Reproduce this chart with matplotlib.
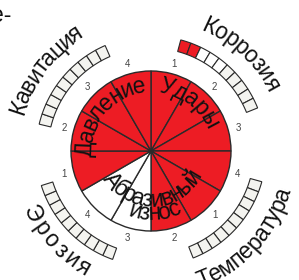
import numpy as np
import matplotlib
matplotlib.use("Agg")
import matplotlib.pyplot as plt
from matplotlib.font_manager import FontProperties

plt.rcParams['font.family'] = ['Liberation Sans', 'DejaVu Sans']

# ---------------- data ----------------
group_names = ['Удары', 'Абразивный износ', 'Давление']
sector_labels = ['1', '2', '3', '4', '1', '2', '3', '4', '1', '2', '3', '4']
sector_filled = [1, 1, 1, 1, 1, 1, 0, 0, 1, 1, 1, 1]

ring_names = ['Коррозия', 'Кавитация', 'Эрозия', 'Температура']
# 2 = red, 1 = white, 0 = light grey
korroziya_boxes = [2, 2, 1, 1, 1, 0, 0, 0, 0, 0]
kavitatsiya_boxes = [0, 0, 0, 0, 0, 0, 0, 0, 0, 0]
eroziya_boxes = [0, 0, 0, 0, 0, 0, 0, 0, 0, 0]
temperatura_boxes = [0, 0, 0, 0, 0, 0, 0, 0, 0, 0]
title_fragment = 'е-'

# ---------------- style / layout ----------------
RED = '#ED1C24'
LIGHT = '#f4f4f0'
EDGE = '#2a2a2a'
FS = 16.5
W, H = 299, 280
fig = plt.figure(figsize=(W / 100, H / 100), dpi=100)
R_AX = 150
cx, cy = 151, H - 151
ax = fig.add_axes([(cx - R_AX) / W, (cy - R_AX) / H, 2 * R_AX / W, 2 * R_AX / H],
                  projection='polar')
ax.set_ylim(0, R_AX)
ax.set_axis_off()

R_CIRC = 80
n_sec = len(sector_labels)
sec_w = 360 / n_sec
sec_centers = 90 - sec_w / 2 - sec_w * np.arange(n_sec)
ax.bar(np.deg2rad(sec_centers), [R_CIRC] * n_sec, width=np.deg2rad(sec_w), bottom=0,
       color=[RED if f else 'white' for f in sector_filled],
       edgecolor=EDGE, linewidth=1.0, align='center', zorder=2)

for a, lab in zip(sec_centers, sector_labels):
    ax.text(np.deg2rad(a), 90, lab, ha='center', va='center', fontsize=7, color='#444444')

# box rings
box_colors = {2: RED, 1: 'white', 0: LIGHT}
ring_boxes = [korroziya_boxes, kavitatsiya_boxes, eroziya_boxes, temperatura_boxes]
ring_centers = [48.5, 140, -136, -42]
SPAN = 53
R_IN, R_OUT = 103, 115
for boxes, c in zip(ring_boxes, ring_centers):
    n = len(boxes)
    w = SPAN / n
    angs = c + SPAN / 2 - w * (np.arange(n) + 0.5)
    ax.bar(np.deg2rad(angs), R_OUT - R_IN, width=np.deg2rad(w), bottom=R_IN,
           color=[box_colors[b] for b in boxes], edgecolor=EDGE, linewidth=0.8, zorder=2)

renderer = fig.canvas.get_renderer()


def arc_text(s, r_c, a0, a1, outward, fs=FS):
    prop = FontProperties(family=['Liberation Sans', 'DejaVu Sans'], size=fs)
    widths = np.array([renderer.get_text_width_height_descent(ch, prop, ismath=False)[0]
                       for ch in s])
    cum = np.concatenate([[0], np.cumsum(widths[:-1])]) + widths / 2
    frac = (cum - cum[0]) / (cum[-1] - cum[0])
    angs = a0 + frac * (a1 - a0)
    off = 0.26 * fs * 100 / 72
    for ch, a in zip(s, angs):
        if outward:
            rb, rot = r_c - off, a - 90
        else:
            rb, rot = r_c + off, a + 90
        ax.text(np.deg2rad(a), rb, ch, rotation=rot, rotation_mode='anchor',
                ha='center', va='baseline', fontsize=fs, color='#111111', zorder=5)


# inner group labels
arc_text(group_names[0], 65, 76, 28, True)
arc_text(group_names[2], 65, 178, 100, True)
abr, izn = group_names[1].split()
arc_text(abr, 50, -143, -31, False)
arc_text(izn, 63, -105, -68, False)

# outer ring labels
arc_text(ring_names[0], 137, 64.9, 29, True)
arc_text(ring_names[1], 138, 161.6, 122.8, True)
arc_text(ring_names[2], 135, -152, -120, False)
arc_text(ring_names[3], 139, -67.5, -18, False)

fig.text(11 / W, 1 - 22 / H, title_fragment, ha='right', va='baseline', fontsize=FS,
         color='#111111')

fig.savefig('out.png', dpi=100)
